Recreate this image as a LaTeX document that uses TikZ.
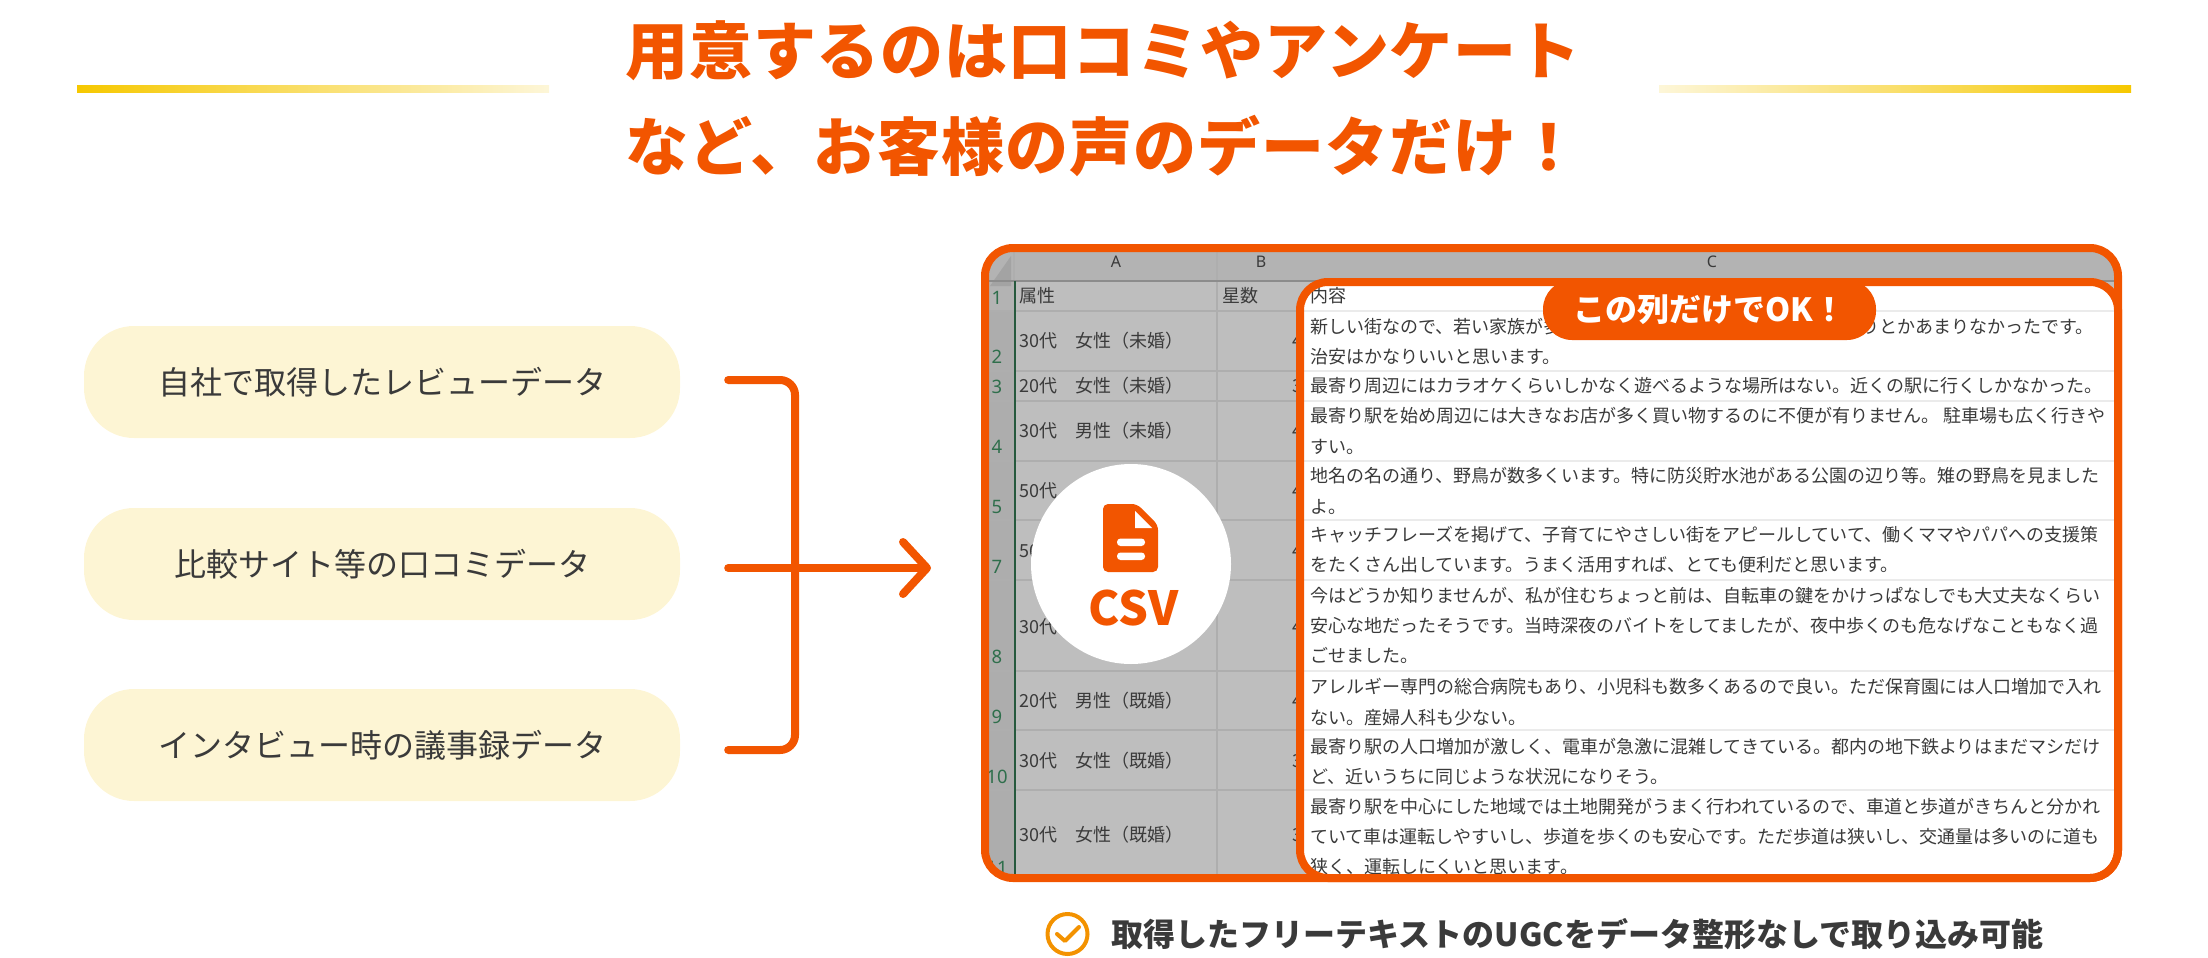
\documentclass[tikz,border=0pt]{standalone}
\usepackage{fontspec}
\setmainfont{Noto Sans CJK JP}
\newfontfamily\titlefont{Noto Sans CJK JP}[LetterSpace=1.5]
\newfontfamily\digitfont{Noto Sans}
\usepackage{tikz}
\usetikzlibrary{positioning,arrows.meta}
\definecolor{brand}{HTML}{F25500}
\definecolor{ink}{HTML}{3A3A3A}
\definecolor{cream}{HTML}{FDF5D4}
\definecolor{gold}{HTML}{F6C800}
\definecolor{paleline}{HTML}{FDF6D8}
\definecolor{tick}{HTML}{F39200}
\definecolor{cellgrey}{HTML}{BEBEBE}
\definecolor{headgrey}{HTML}{B3B3B3}
\definecolor{rowgrey}{HTML}{ADADAD}
\definecolor{gridgrey}{HTML}{AEAEAE}
\definecolor{rowgreen}{HTML}{2F6F4C}

\begin{document}
\begin{tikzpicture}
  [x=1pt,y=-1pt,line cap=butt,every node/.style={inner sep=0pt},
   heading/.style={anchor=west,text=brand,font=\titlefont\bfseries\fontsize{63}{63}\selectfont},
   pill/.style={fill=cream,rounded corners=50pt,minimum width=596pt,minimum height=112pt,text=ink,font=\fontsize{32}{32}\selectfont},
   cell/.style={anchor=west,text=ink,text height=15.8pt,text depth=2.2pt,font=\fontsize{18}{19}\selectfont},
   rowno/.style={text=rowgreen,font=\digitfont\fontsize{18.5}{19}\selectfont},
   colhead/.style={text=ink,font=\digitfont\fontsize{16}{16}\selectfont},
   gridline/.style={draw=gridgrey,line width=1.3pt},
   lightgrid/.style={draw=black!8,line width=2pt},
   frame/.style={draw=brand,line width=8pt,rounded corners=28pt},
   link/.style={draw=brand,line width=8pt,line cap=round},
   goldbar/.style={draw=none}]

  \useasboundingbox (0,0) rectangle (2208,958);

  % title
  \node[heading] (title1) at (625,51) {用意するのは口コミやアンケート};
  \node[heading] (title2) at (625,146) {など、お客様の声のデータだけ！};
  \shade[goldbar,left color=gold,right color=paleline] (77,85.5) rectangle (549,92.5);
  \shade[goldbar,left color=paleline,right color=gold] (1659,85.5) rectangle (2131,92.5);

  % sources
  \node[pill] (pill1) at (382,382) {自社で取得したレビューデータ};
  \node[pill] (pill2) at (382,564) {比較サイト等の口コミデータ};
  \node[pill] (pill3) at (382,745) {インタビュー時の議事録データ};

  % sheet
  \begin{scope}
    \clip[rounded corners=28pt] (985,248) rectangle (2118,878);
    \fill[cellgrey] (985,248) rectangle (2118,878);
    \fill[headgrey] (985,248) rectangle (2118,281);
    \fill[rowgrey] (985,311) rectangle (1014,878);
    \fill[headgrey] (985,281) rectangle (1014,311);
    \fill[black!36] (990,286) -- (1011,256) -- (1011,286) -- cycle;
    \draw[gridline] (985,311) -- (1300,311) (985,371) -- (1300,371) (985,401) -- (1300,401)
      (985,461) -- (1300,461) (985,520) -- (1300,520) (985,580) -- (1300,580)
      (985,671) -- (1300,671) (985,730) -- (1300,730) (985,790) -- (1300,790)
      (1217,252) -- (1217,878) (1014,252) -- (1014,281);
    \draw[draw=black!45,line width=1.5pt] (985,281) -- (2118,281);
    \draw[draw=rowgreen!80!black,line width=1.8pt] (1015,281) -- (1015,878);

    \node[colhead] (heada) at (1116,262) {A};
    \node[colhead] (headb) at (1261,262) {B};
    \node[colhead] (headc) at (1712,262) {C};

    \node[rowno] (no1) at (997,298) {1};
    \node[rowno] (no2) at (997,357) {2};
    \node[rowno] (no3) at (997,387) {3};
    \node[rowno] (no4) at (997,447) {4};
    \node[rowno] (no5) at (997,507) {5};
    \node[rowno] (no7) at (997,567) {7};
    \node[rowno] (no8) at (997,657) {8};
    \node[rowno] (no9) at (997,717) {9};
    \node[rowno] (no10) at (997,777) {10};
    \node[rowno] (no11) at (997,868) {11};

    \node[cell] (attr1) at (1019,296) {属性};
    \node[cell] (attr2) at (1019,341) {30代　女性（未婚）};
    \node[cell] (attr3) at (1019,386) {20代　女性（未婚）};
    \node[cell] (attr4) at (1019,431) {30代　男性（未婚）};
    \node[cell] (attr5) at (1019,491) {50代};
    \node[cell] (attr7) at (1019,551) {50};
    \node[cell] (attr8) at (1019,627) {30代};
    \node[cell] (attr9) at (1019,701) {20代　男性（既婚）};
    \node[cell] (attr10) at (1019,761) {30代　女性（既婚）};
    \node[cell] (attr11) at (1019,835) {30代　女性（既婚）};

    \node[cell] (star1) at (1222,296) {星数};
    \node[cell] (star2) at (1292,341) {4};
    \node[cell] (star3) at (1292,386) {3};
    \node[cell] (star4) at (1292,431) {4};
    \node[cell] (star5) at (1292,491) {4};
    \node[cell] (star7) at (1292,551) {4};
    \node[cell] (star8) at (1292,627) {4};
    \node[cell] (star9) at (1292,701) {4};
    \node[cell] (star10) at (1292,761) {3};
    \node[cell] (star11) at (1292,835) {3};

    % column C
    \fill[white,rounded corners=28pt] (1300,282) rectangle (2118,878);
    \draw[lightgrid] (1300,311) -- (2118,311) (1300,371) -- (2118,371) (1300,401) -- (2118,401)
      (1300,461) -- (2118,461) (1300,520) -- (2118,520) (1300,580) -- (2118,580)
      (1300,671) -- (2118,671) (1300,730) -- (2118,730) (1300,790) -- (2118,790);
    \node[cell] (text1) at (1310,296) {内容};
    \node[cell] (text2a) at (1310,327) {新しい街なので、若い家族が多};
    \node[cell] (text2b) at (1861,327) {りとかあまりなかったです。};
    \node[cell] (text2c) at (1310,357) {治安はかなりいいと思います。};
    \node[cell] (text3) at (1310,386) {最寄り周辺にはカラオケくらいしかなく遊べるような場所はない。近くの駅に行くしかなかった。};
    \node[cell] (text4a) at (1310,416) {最寄り駅を始め周辺には大きなお店が多く買い物するのに不便が有りません。 駐車場も広く行きや};
    \node[cell] (text4b) at (1310,447) {すい。};
    \node[cell] (text5a) at (1310,476) {地名の名の通り、野鳥が数多くいます。特に防災貯水池がある公園の辺り等。雉の野鳥を見ました};
    \node[cell] (text5b) at (1310,507) {よ。};
    \node[cell] (text7a) at (1310,535) {キャッチフレーズを掲げて、子育てにやさしい街をアピールしていて、働くママやパパへの支援策};
    \node[cell] (text7b) at (1310,565) {をたくさん出しています。うまく活用すれば、とても便利だと思います。};
    \node[cell] (text8a) at (1310,596) {今はどうか知りませんが、私が住むちょっと前は、自転車の鍵をかけっぱなしでも大丈夫なくらい};
    \node[cell] (text8b) at (1310,626) {安心な地だったそうです。当時深夜のバイトをしてましたが、夜中歩くのも危なげなこともなく過};
    \node[cell] (text8c) at (1310,656) {ごせました。};
    \node[cell] (text9a) at (1310,687) {アレルギー専門の総合病院もあり、小児科も数多くあるので良い。ただ保育園には人口増加で入れ};
    \node[cell] (text9b) at (1310,718) {ない。産婦人科も少ない。};
    \node[cell] (text10a) at (1310,747) {最寄り駅の人口増加が激しく、電車が急激に混雑してきている。都内の地下鉄よりはまだマシだけ};
    \node[cell] (text10b) at (1310,777) {ど、近いうちに同じような状況になりそう。};
    \node[cell] (text11a) at (1310,807) {最寄り駅を中心にした地域では土地開発がうまく行われているので、車道と歩道がきちんと分かれ};
    \node[cell] (text11b) at (1310,837) {ていて車は運転しやすいし、歩道を歩くのも安心です。ただ歩道は狭いし、交通量は多いのに道も};
    \node[cell] (text11c) at (1310,867) {狭く、運転しにくいと思います。};
  \end{scope}

  % frames
  \node[frame,minimum width=1133pt,minimum height=630pt] (sheet) at (1551.5,563) {};
  \node[frame,minimum width=818pt,minimum height=596pt] (column) at (1709,580) {};
  \node[fill=brand,rounded corners=29pt,minimum width=333pt,minimum height=60pt,text=white,
        font=\bfseries\fontsize{32}{32}\selectfont] (badge) at (1709.5,310) {この列だけでOK！};

  % csv badge
  \node[circle,fill=white,minimum size=200pt] (csvdisc) at (1131,564) {};
  \fill[brand,rounded corners=5pt] (1103,504) -- (1137,504) -- (1158,525) -- (1158,572) -- (1103,572) -- cycle;
  \fill[white] (1135,511) -- (1152,528) -- (1135,528) -- cycle;
  \fill[white,rounded corners=3.5pt] (1117,538.5) rectangle (1145,546);
  \fill[white,rounded corners=3.5pt] (1117,552.5) rectangle (1145,560);
  \node[text=brand,font=\bfseries\fontsize{47}{47}\selectfont] (csv) at (1133.5,608) {CSV};

  % bracket and arrow
  \coordinate (brtop) at ([xshift=48pt,yshift=2pt]pill1.east);
  \coordinate (brbot) at ([xshift=48pt,yshift=-5pt]pill3.east);
  \coordinate (brmid) at ([xshift=48pt,yshift=-4pt]pill2.east);
  \coordinate (arrowend) at ([xshift=-50pt,yshift=-5pt]sheet.west);
  \draw[link,rounded corners=15pt] (brtop) -- (795,380) -- (795,750) -- (brbot);
  \draw[link,-{Straight Barb[length=24pt,width=52pt,round]}] (brmid) -- (arrowend);

  % caption
  \node[circle,draw=tick,line width=4pt,minimum size=40pt] (chk) at (1067.5,934) {};
  \draw[tick,line width=4pt,line cap=round,line join=round] (1057,934) -- (1065,941) -- (1079,927);
  \node[right=22pt of chk,text=ink,font=\bfseries\fontsize{32}{32}\selectfont] (caption) {取得したフリーテキストのUGCをデータ整形なしで取り込み可能};
\end{tikzpicture}
\end{document}
